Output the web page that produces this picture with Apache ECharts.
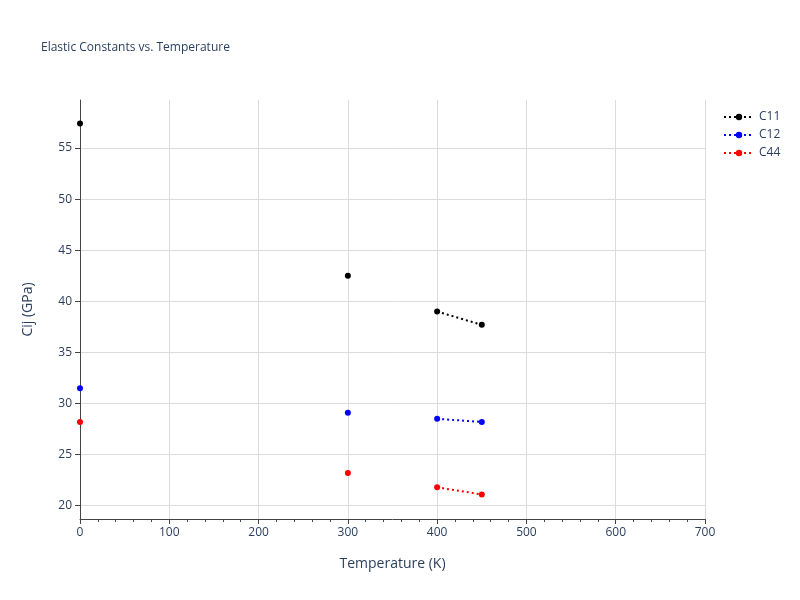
<!DOCTYPE html>
<html>
<head>
<meta charset="utf-8">
<script src="https://cdn.jsdelivr.net/npm/echarts@6/dist/echarts.min.js"></script>
<style>html,body{margin:0;padding:0;background:#fff}#chart{width:800px;height:600px}</style>
</head>
<body>
<div id="chart"></div>
<script>
var temps = [0, 300, 400, 450];
// true = no line drawn between this point and the next
var gapAfter = [true, true, false];
var seriesNames = ["C11", "C12", "C44"];
var c11 = [57.4, 42.5, 39.0, 37.7];
var c12 = [31.5, 29.1, 28.5, 28.2];
var c44 = [28.2, 23.2, 21.8, 21.1];
var yTicks = [20, 25, 30, 35, 40, 45, 50, 55];
var colors = ["#000000", "#0000ff", "#ff0000"];

function buildData(vals) {
    var out = [];
    for (var i = 0; i < vals.length; i++) {
        out.push([temps[i], vals[i]]);
        if (i < gapAfter.length && gapAfter[i]) out.push('-');
    }
    return out;
}

var font = "Open Sans, Noto Sans, sans-serif";
var chart = echarts.init(document.getElementById("chart"));
chart.setOption({
    title: {
        text: "Elastic Constants vs. Temperature",
        left: 36, top: 37,
        textStyle: { fontSize: 12, fontWeight: "normal", color: "#2a3f5f", fontFamily: font }
    },
    legend: {
        orient: "vertical", left: 718, top: 106, itemGap: 6,
        itemWidth: 30, itemHeight: 8,
        textStyle: { color: "#2a3f5f", fontSize: 12, fontFamily: font },
        data: seriesNames
    },
    grid: { left: 80, right: 95, top: 100, bottom: 81 },
    xAxis: {
        type: "value", min: 0, max: 700, interval: 100,
        name: "Temperature (K)", nameLocation: "middle", nameGap: 38,
        nameTextStyle: { color: "#2a3f5f", fontSize: 14, fontFamily: font },
        axisLine: { show: true, onZero: false, lineStyle: { color: "#444" } },
        axisTick: { show: true, lineStyle: { color: "#444" } },
        minorTick: { show: true, splitNumber: 5, lineStyle: { color: "#444" } },
        axisLabel: { color: "#2a3f5f", fontSize: 12, fontFamily: font },
        splitLine: { show: true, lineStyle: { color: "#dcdcdc" } }
    },
    yAxis: {
        type: "value", min: 18.7, max: 59.7,
        name: "Cij (GPa)", nameLocation: "middle", nameGap: 45,
        nameTextStyle: { color: "#2a3f5f", fontSize: 14, fontFamily: font },
        axisLine: { show: true, onZero: false, lineStyle: { color: "#444" } },
        axisTick: { show: true, customValues: yTicks, lineStyle: { color: "#444" } },
        axisLabel: { color: "#2a3f5f", fontSize: 12, fontFamily: font, customValues: yTicks },
        splitLine: { show: true, customValues: yTicks, lineStyle: { color: "#dcdcdc" } }
    },
    series: [c11, c12, c44].map(function (vals, i) {
        return {
            name: seriesNames[i], type: "line",
            data: buildData(vals),
            connectNulls: false,
            symbol: "circle", symbolSize: 6,
            itemStyle: { color: colors[i] },
            lineStyle: { color: colors[i], width: 2, type: [2, 3] }
        };
    })
});
</script>
</body>
</html>
